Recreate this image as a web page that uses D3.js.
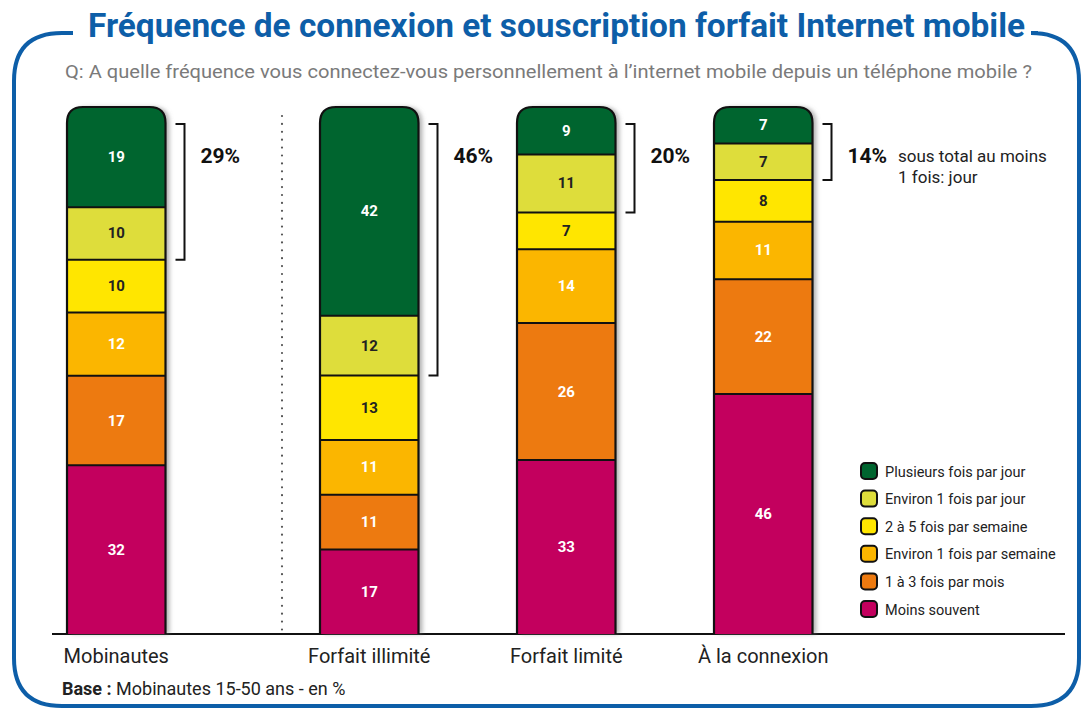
<!DOCTYPE html>
<html>
<head>
<meta charset="utf-8">
<script src="https://cdn.jsdelivr.net/npm/d3@7"></script>
<style>
  body { margin: 0; background: #fff; }
  text { font-family: Roboto, "Liberation Sans", sans-serif; }
</style>
</head>
<body>
<div id="chart"></div>
<script>
// categories (bars) and the answer levels (stack order, top to bottom)
var categories = ["Mobinautes", "Forfait illimité", "Forfait limité", "À la connexion"];
var levels = ["Plusieurs fois par jour", "Environ 1 fois par jour", "2 à 5 fois par semaine",
              "Environ 1 fois par semaine", "1 à 3 fois par mois", "Moins souvent"];

// values in %, one array per level
var plusieursParJour = [19, 42, 9, 7];
var environParJour   = [10, 12, 11, 7];
var deuxACinqSemaine = [10, 13, 7, 8];
var environSemaine   = [12, 11, 14, 11];
var unATroisMois     = [17, 11, 26, 22];
var moinsSouvent     = [32, 17, 33, 46];
var sousTotal        = [29, 46, 20, 14];

var colors = ["#00652f", "#dedd3b", "#ffe600", "#fbb600", "#ed7a10", "#c3005e"];
var labelColors = ["#fff", "#222", "#222", "#fff", "#fff", "#fff"];

var width = 1082, height = 708;
var barTop = 107, barBottom = 634;

var svg = d3.select("#chart").append("svg")
    .attr("width", width)
    .attr("height", height);

var defs = svg.append("defs");
var shadow = defs.append("filter").attr("id", "shadow")
    .attr("x", "-10%").attr("y", "-5%").attr("width", "130%").attr("height", "110%");
shadow.append("feDropShadow")
    .attr("dx", 4).attr("dy", 0).attr("stdDeviation", 2)
    .attr("flood-color", "#777").attr("flood-opacity", 0.55);

// frame
var blue = "#0d5ea8";
var r = 48;
svg.append("path")
    .attr("d", "M73,33 L" + (14 + r) + ",33 Q14,33 14," + (33 + r) +
        " L14," + (706 - r) + " Q14,706 " + (14 + r) + ",706 L" + (1079 - r) + ",706 Q1079,706 1079," + (706 - r) +
        " L1079," + (33 + r) + " Q1079,33 " + (1079 - r) + ",33 L1038,33")
    .attr("fill", "none")
    .attr("stroke", blue)
    .attr("stroke-width", 4);

svg.append("text")
    .attr("x", 88).attr("y", 37)
    .attr("font-size", 33).attr("font-weight", "bold")
    .attr("fill", blue)
    .attr("textLength", 937).attr("lengthAdjust", "spacingAndGlyphs")
    .text("Fréquence de connexion et souscription forfait Internet mobile");

svg.append("text")
    .attr("x", 65).attr("y", 78)
    .attr("font-size", 18)
    .attr("fill", "#7a7a7a")
    .attr("textLength", 967).attr("lengthAdjust", "spacingAndGlyphs")
    .text("Q: A quelle fréquence vous connectez-vous personnellement à l’internet mobile depuis un téléphone mobile ?");

// x positions: band scale, bars after the separator pushed right
var step = 197;
var xBand = d3.scaleBand()
    .domain(categories)
    .range([67, 67 + step * (categories.length - 0.5)])
    .paddingInner(0.5)
    .paddingOuter(0);
var gap = 56;
function xPos(c, i) { return xBand(c) + (i > 0 ? gap : 0); }
var bw = xBand.bandwidth();

var series = [plusieursParJour, environParJour, deuxACinqSemaine, environSemaine, unATroisMois, moinsSouvent];

// separator
svg.append("line")
    .attr("x1", 282).attr("x2", 282)
    .attr("y1", 116).attr("y2", 632)
    .attr("stroke", "#555")
    .attr("stroke-width", 2.2)
    .attr("stroke-linecap", "round")
    .attr("stroke-dasharray", "0,7.9");

// baseline
svg.append("line")
    .attr("x1", 52).attr("x2", 1065)
    .attr("y1", barBottom).attr("y2", barBottom)
    .attr("stroke", "#111").attr("stroke-width", 2);

var rad = 16;
function barPath(x0, w) {
    return "M" + x0 + "," + barBottom + " L" + x0 + "," + (barTop + rad) +
        " Q" + x0 + "," + barTop + " " + (x0 + rad) + "," + barTop +
        " L" + (x0 + w - rad) + "," + barTop +
        " Q" + (x0 + w) + "," + barTop + " " + (x0 + w) + "," + (barTop + rad) +
        " L" + (x0 + w) + "," + barBottom;
}

categories.forEach(function(cat, i) {
    var vals = series.map(function(s) { return s[i]; });
    var total = d3.sum(vals);
    var y = d3.scaleLinear().domain([0, total]).range([barTop, barBottom]);
    var x0 = xPos(cat, i);

    var stacked = [];
    var acc = 0;
    vals.forEach(function(v, k) {
        stacked.push({k: k, v: v, y0: acc, y1: acc + v});
        acc += v;
    });

    defs.append("clipPath").attr("id", "clip" + i)
        .append("path").attr("d", barPath(x0, bw) + " Z");

    var g = svg.append("g");
    // shadow body
    g.append("path")
        .attr("d", barPath(x0, bw) + " Z")
        .attr("fill", "#fff")
        .attr("filter", "url(#shadow)");

    var segs = g.append("g").attr("clip-path", "url(#clip" + i + ")");
    segs.selectAll("rect")
        .data(stacked)
        .enter()
        .append("rect")
            .attr("x", x0)
            .attr("y", function(d) { return y(d.y0); })
            .attr("width", bw)
            .attr("height", function(d) { return y(d.y1) - y(d.y0); })
            .attr("fill", function(d) { return colors[d.k]; });

    segs.selectAll("line.sep")
        .data(stacked.slice(1))
        .enter()
        .append("line")
            .attr("x1", x0).attr("x2", x0 + bw)
            .attr("y1", function(d) { return y(d.y0); })
            .attr("y2", function(d) { return y(d.y0); })
            .attr("stroke", "#111").attr("stroke-width", 2);

    g.append("path")
        .attr("d", barPath(x0, bw))
        .attr("fill", "none")
        .attr("stroke", "#111")
        .attr("stroke-width", 2.2);

    g.selectAll("text.val")
        .data(stacked)
        .enter()
        .append("text")
            .attr("x", x0 + bw / 2)
            .attr("y", function(d) { return (y(d.y0) + y(d.y1)) / 2 + 5; })
            .attr("text-anchor", "middle")
            .attr("font-size", 15)
            .attr("font-weight", "bold")
            .attr("fill", function(d) { return labelColors[d.k]; })
            .text(function(d) { return d.v; });

    // bracket over the first two levels
    var bx = x0 + bw + 19;
    var by1 = barTop + 17;
    var by2 = y(stacked[1].y1);
    svg.append("path")
        .attr("d", "M" + (bx - 9) + "," + by1 + " L" + bx + "," + by1 + " L" + bx + "," + by2 + " L" + (bx - 9) + "," + by2)
        .attr("fill", "none")
        .attr("stroke", "#111")
        .attr("stroke-width", 2);

    svg.append("text")
        .attr("x", bx + 16).attr("y", 163)
        .attr("font-size", 21).attr("font-weight", "bold")
        .attr("fill", "#111")
        .text(sousTotal[i] + "%");

    svg.append("text")
        .attr("x", x0 + bw / 2).attr("y", 663)
        .attr("text-anchor", "middle")
        .attr("font-size", 20)
        .attr("fill", "#222")
        .text(cat);
});

// note next to the last bracket
var note = svg.append("text")
    .attr("x", 898).attr("y", 162)
    .attr("font-size", 17).attr("fill", "#222");
note.append("tspan").text("sous total au moins");
note.append("tspan").attr("x", 898).attr("dy", 21).text("1 fois: jour");

// legend
var legend = svg.append("g").attr("transform", "translate(861,463)");
var rows = legend.selectAll("g")
    .data(levels)
    .enter()
    .append("g")
        .attr("transform", function(d, k) { return "translate(0," + (k * 27.6) + ")"; });
rows.append("rect")
    .attr("width", 16).attr("height", 16)
    .attr("rx", 4)
    .attr("fill", function(d, k) { return colors[k]; })
    .attr("stroke", "#111").attr("stroke-width", 2);
rows.append("text")
    .attr("x", 24).attr("y", 13.5)
    .attr("font-size", 14.5)
    .attr("fill", "#222")
    .text(function(d) { return d; });

// base note
var base = svg.append("text")
    .attr("x", 62).attr("y", 695)
    .attr("font-size", 18).attr("fill", "#222");
base.append("tspan").attr("font-weight", "bold").text("Base :");
base.append("tspan").text(" Mobinautes 15-50 ans - en %");
</script>
</body>
</html>
